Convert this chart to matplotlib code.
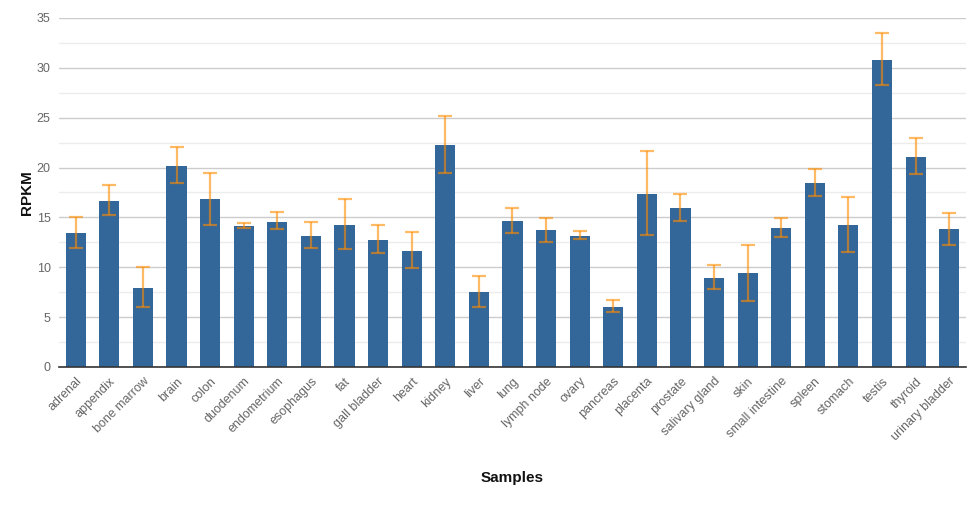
import matplotlib.pyplot as plt
from matplotlib.ticker import MultipleLocator

# Data
samples = [
    'adrenal', 'appendix', 'bone marrow', 'brain', 'colon', 'duodenum',
    'endometrium', 'esophagus', 'fat', 'gall bladder', 'heart', 'kidney',
    'liver', 'lung', 'lymph node', 'ovary', 'pancreas', 'placenta',
    'prostate', 'salivary gland', 'skin', 'small intestine', 'spleen',
    'stomach', 'testis', 'thyroid', 'urinary bladder'
]
rpkm = [13.44, 16.65, 7.92, 20.16, 16.85, 14.14, 14.54, 13.14, 14.24, 12.74,
        11.63, 22.27, 7.52, 14.64, 13.74, 13.14, 6.02, 17.35, 15.95, 8.93,
        9.43, 13.94, 18.46, 14.24, 30.79, 21.06, 13.84]
err_low = [11.94, 15.25, 5.99, 18.42, 14.27, 13.94, 13.81, 11.90, 11.87, 11.40,
           9.90, 19.49, 5.99, 13.47, 12.54, 12.81, 5.52, 13.21, 14.64, 7.86,
           6.65, 13.04, 17.18, 11.53, 28.28, 19.33, 12.24]
err_high = [15.08, 18.29, 10.06, 22.04, 19.49, 14.41, 15.52, 14.54, 16.82, 14.21,
            13.50, 25.14, 9.16, 15.92, 14.98, 13.67, 6.69, 21.70, 17.35, 10.23,
            12.24, 14.94, 19.89, 17.02, 33.47, 22.94, 15.48]

plt.rcParams['font.family'] = ['Liberation Sans', 'DejaVu Sans']

fig = plt.figure(figsize=(9.78, 5.14), dpi=100)
ax = fig.add_axes([0.0603, 0.286, 0.9274, 0.679])

x = list(range(len(samples)))
ax.bar(x, rpkm, width=0.6, color='#336699', zorder=2)

lower = [v - lo for v, lo in zip(rpkm, err_low)]
upper = [hi - v for v, hi in zip(rpkm, err_high)]
ax.errorbar(x, rpkm, yerr=[lower, upper], fmt='none', ecolor='#ff8c00',
            alpha=0.6, elinewidth=1.6, capsize=5, capthick=1.6, zorder=3)

ax.set_xlim(-0.5, len(samples) - 0.5)
ax.set_ylim(0, 35)
ax.yaxis.set_major_locator(MultipleLocator(5))
ax.yaxis.set_minor_locator(MultipleLocator(2.5))
ax.grid(axis='y', which='major', color='#cccccc', linewidth=1, zorder=0)
ax.grid(axis='y', which='minor', color='#ececec', linewidth=1, zorder=0)
ax.set_axisbelow(True)

for side in ['top', 'right', 'left']:
    ax.spines[side].set_visible(False)
ax.spines['bottom'].set_color('#333333')
ax.spines['bottom'].set_linewidth(1.2)

ax.tick_params(axis='y', which='both', length=0, labelsize=9, labelcolor='#666666', pad=6)
ax.tick_params(axis='x', length=0, labelsize=9, labelcolor='#666666', pad=6)
ax.set_xticks(x)
ax.set_xticklabels(samples, rotation=45, ha='right', va='top', rotation_mode='anchor')

ax.set_ylabel('RPKM', fontsize=11, fontweight='bold', color='#111111')
ax.yaxis.set_label_coords(-0.027, 0.5)
ax.set_xlabel('Samples', fontsize=11, fontweight='bold', color='#111111', va='center')
ax.xaxis.set_label_coords(0.5, -0.317)

fig.savefig('out.png', dpi=100)
